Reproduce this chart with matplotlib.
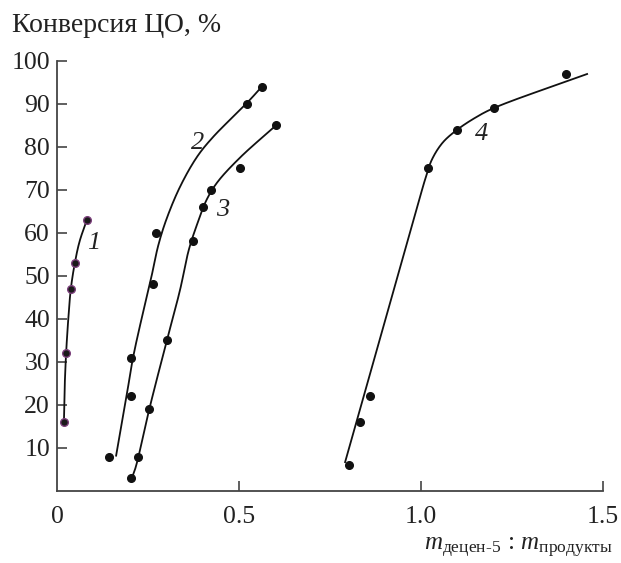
import numpy as np
import matplotlib.pyplot as plt

plt.rcParams['font.family'] = ['Liberation Serif', 'DejaVu Serif']
plt.rcParams['mathtext.fontset'] = 'custom'
plt.rcParams['mathtext.rm'] = 'Liberation Serif'
plt.rcParams['mathtext.it'] = 'Liberation Serif:italic'

# measured points
x1 = [0.019, 0.025, 0.038, 0.049, 0.082]
y1 = [16, 32, 47, 53, 63]
x2 = [0.143, 0.203, 0.203, 0.263, 0.272, 0.522, 0.563]
y2 = [8, 22, 31, 48, 60, 90, 94]
x3 = [0.203, 0.222, 0.253, 0.303, 0.373, 0.402, 0.422, 0.502, 0.602]
y3 = [3, 8, 19, 35, 58, 66, 70, 75, 85]
x4 = [0.802, 0.832, 0.86, 1.02, 1.10, 1.20, 1.40]
y4 = [6, 16, 22, 75, 84, 89, 97]

# fitted curves, nodes
cx1 = [0.019, 0.021, 0.025, 0.031, 0.038, 0.049, 0.062, 0.082]
cy1 = [16, 24, 32, 40, 47, 53, 58, 63]
cx2 = [0.162, 0.191, 0.209, 0.235, 0.26, 0.278, 0.30, 0.338, 0.385, 0.429, 0.522, 0.563]
cy2 = [8, 22, 31, 41, 50, 57, 63, 70.7, 77.7, 82.3, 90.2, 94]
cx3 = [0.205, 0.214, 0.223, 0.253, 0.301, 0.338, 0.362, 0.385, 0.41, 0.44, 0.503, 0.602]
cy3 = [2.8, 4.9, 7.7, 18.8, 34.7, 46.7, 56, 62, 67.5, 71.7, 77.5, 85]
cx4 = [0.791, 0.99, 1.01, 1.03, 1.06, 1.10, 1.15, 1.20, 1.459]
cy4 = [6.5, 66, 72, 77, 81, 84, 86.8, 89, 97]

labels = ['1', '2', '3', '4']
label_x = [0.10, 0.387, 0.456, 1.168]
label_y = [57.7, 81, 65.3, 83]


def smooth(xs, ys, n=30):
    # centripetal Catmull-Rom, computed in screen-like units
    sc = np.array([364.0, 4.3])
    p = np.column_stack([xs, ys]).astype(float) * sc
    p = np.vstack([2 * p[0] - p[1], p, 2 * p[-1] - p[-2]])
    out = []
    for i in range(1, len(p) - 2):
        P0, P1, P2, P3 = p[i - 1], p[i], p[i + 1], p[i + 2]
        t0 = 0.0
        t1 = t0 + np.linalg.norm(P1 - P0) ** 0.5
        t2 = t1 + np.linalg.norm(P2 - P1) ** 0.5
        t3 = t2 + np.linalg.norm(P3 - P2) ** 0.5
        t = np.linspace(t1, t2, n)[:, None]
        A1 = (t1 - t) / (t1 - t0) * P0 + (t - t0) / (t1 - t0) * P1
        A2 = (t2 - t) / (t2 - t1) * P1 + (t - t1) / (t2 - t1) * P2
        A3 = (t3 - t) / (t3 - t2) * P2 + (t - t2) / (t3 - t2) * P3
        B1 = (t2 - t) / (t2 - t0) * A1 + (t - t0) / (t2 - t0) * A2
        B2 = (t3 - t) / (t3 - t1) * A2 + (t - t1) / (t3 - t1) * A3
        out.append((t2 - t) / (t2 - t1) * B1 + (t - t1) / (t2 - t1) * B2)
    out = np.vstack(out) / sc
    return out[:, 0], out[:, 1]


fig = plt.figure(figsize=(6.21, 5.63), dpi=100)
ax = fig.add_axes([0.0918, 0.128, 0.879, 0.764])

tc = '#222222'
for cx, cy in [(cx1, cy1), (cx2, cy2), (cx3, cy3), (cx4, cy4)]:
    sx, sy = smooth(cx, cy)
    ax.plot(sx, sy, color='#111111', lw=1.3, solid_capstyle='butt')

ax.plot(x1, y1, 'o', ms=5.5, mfc='#1a1a1a', mec='#7b3f7b', mew=1.0, zorder=3)
for xs, ys in [(x2, y2), (x3, y3), (x4, y4)]:
    ax.plot(xs, ys, 'o', ms=5.5, color='#111111', zorder=3)

for t, lx, ly in zip(labels, label_x, label_y):
    ax.text(lx, ly, t, fontsize=19, style='italic', color=tc, ha='center', va='center')

ax.set_xlim(0, 1.5)
ax.set_ylim(0, 100)
ax.set_xticks([0, 0.5, 1.0, 1.5])
ax.set_xticklabels(['0', '0.5', '1.0', '1.5'])
ax.set_yticks(range(10, 101, 10))
ax.tick_params(direction='in', length=7, width=1.2, colors='#444444',
               labelsize=18.5, labelcolor=tc)
ax.tick_params(axis='x', pad=11)
ax.tick_params(axis='y', pad=5)
ax.xaxis.get_major_ticks()[0].tick1line.set_visible(False)
for s in ['top', 'right']:
    ax.spines[s].set_visible(False)
for s in ['left', 'bottom']:
    ax.spines[s].set_linewidth(1.3)
    ax.spines[s].set_color('#444444')

fig.text(0.02, 0.943, 'Конверсия ЦО, %', fontsize=20, color=tc, ha='left', va='baseline')
fig.text(0.987, 0.005, r'$m_{\mathrm{децен\text{-}5}}\,:\,m_{\mathrm{продукты}}$',
         fontsize=18, color=tc, ha='right', va='bottom')

fig.savefig('out.png', dpi=100)
